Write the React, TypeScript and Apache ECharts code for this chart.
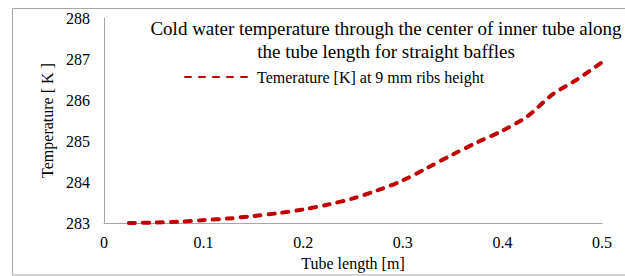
import React, { useEffect, useRef } from "react";
import * as echarts from "echarts";

const tubeLength = [0.025, 0.05, 0.075, 0.1, 0.125, 0.15, 0.175, 0.2, 0.225, 0.25, 0.275, 0.3, 0.325, 0.35, 0.375, 0.4, 0.425, 0.45, 0.475, 0.5];
const temperature = [283.0, 283.01, 283.03, 283.07, 283.11, 283.17, 283.24, 283.33, 283.45, 283.6, 283.8, 284.04, 284.35, 284.67, 284.97, 285.25, 285.6, 286.13, 286.5, 286.92];
const seriesName = "Temerature [K] at 9 mm ribs height";
const titleText = "Cold water temperature through the center of inner tube along\nthe tube length for straight baffles";
const xName = "Tube length [m]";
const yName = "Temperature [ K ]";

const FONT = "Times New Roman, Liberation Serif, serif";

export default function App() {
  const ref = useRef<HTMLDivElement>(null);
  useEffect(() => {
    if (!ref.current) return;
    const chart = echarts.init(ref.current, null, { renderer: "svg" });
    chart.setOption({
      animation: false,
      backgroundColor: "#ffffff",
      graphic: [
        {
          type: "rect",
          shape: { x: 12.5, y: 8.5, width: 640, height: 266.5 },
          style: { fill: "none", stroke: "#a6a6a6", lineWidth: 1 },
          silent: true,
          z: -10,
        },
      ],
      title: {
        text: titleText,
        left: 381,
        top: 12,
        textAlign: "center",
        textStyle: {
          fontFamily: FONT,
          fontSize: 19,
          fontWeight: "normal",
          color: "#000",
          lineHeight: 23,
        },
      },
      legend: {
        left: 184,
        top: 69,
        padding: 0,
        itemWidth: 64,
        itemHeight: 14,
        itemGap: 6,
        itemStyle: { opacity: 0 },
        textStyle: { fontFamily: FONT, fontSize: 16, color: "#000", padding: [0, 0, 0, 3] },
      },
      grid: { left: 104, right: 23, top: 18, bottom: 40, containLabel: false },
      xAxis: {
        type: "value",
        min: 0,
        max: 0.5,
        interval: 0.1,
        name: xName,
        nameLocation: "middle",
        nameGap: 32,
        nameTextStyle: { fontFamily: FONT, fontSize: 16, color: "#000" },
        axisLine: { lineStyle: { color: "#a6a6a6", width: 1 } },
        axisTick: { show: false },
        splitLine: { show: false },
        axisLabel: { fontFamily: FONT, fontSize: 16, color: "#000", margin: 11 },
      },
      yAxis: {
        type: "value",
        min: 283,
        max: 288,
        interval: 1,
        name: yName,
        nameLocation: "middle",
        nameGap: 49,
        nameTextStyle: { fontFamily: FONT, fontSize: 16, color: "#000" },
        axisLine: { show: true, lineStyle: { color: "#a6a6a6", width: 1 } },
        axisTick: { show: false },
        splitLine: { show: false },
        axisLabel: { fontFamily: FONT, fontSize: 16, color: "#000", margin: 14 },
      },
      series: [
        {
          name: seriesName,
          type: "line",
          data: tubeLength.map((x, i) => [x, temperature[i]]),
          smooth: 0.3,
          showSymbol: false,
          symbol: "none",
          lineStyle: { color: "#c00000", width: 4, type: [6, 8], cap: "round" },
          itemStyle: { color: "#c00000" },
        },
      ],
    });
    return () => chart.dispose();
  }, []);
  return (
    <div
      ref={ref}
      style={{ position: "absolute", left: 0, top: 0, width: 625, height: 276 }}
    />
  );
}
